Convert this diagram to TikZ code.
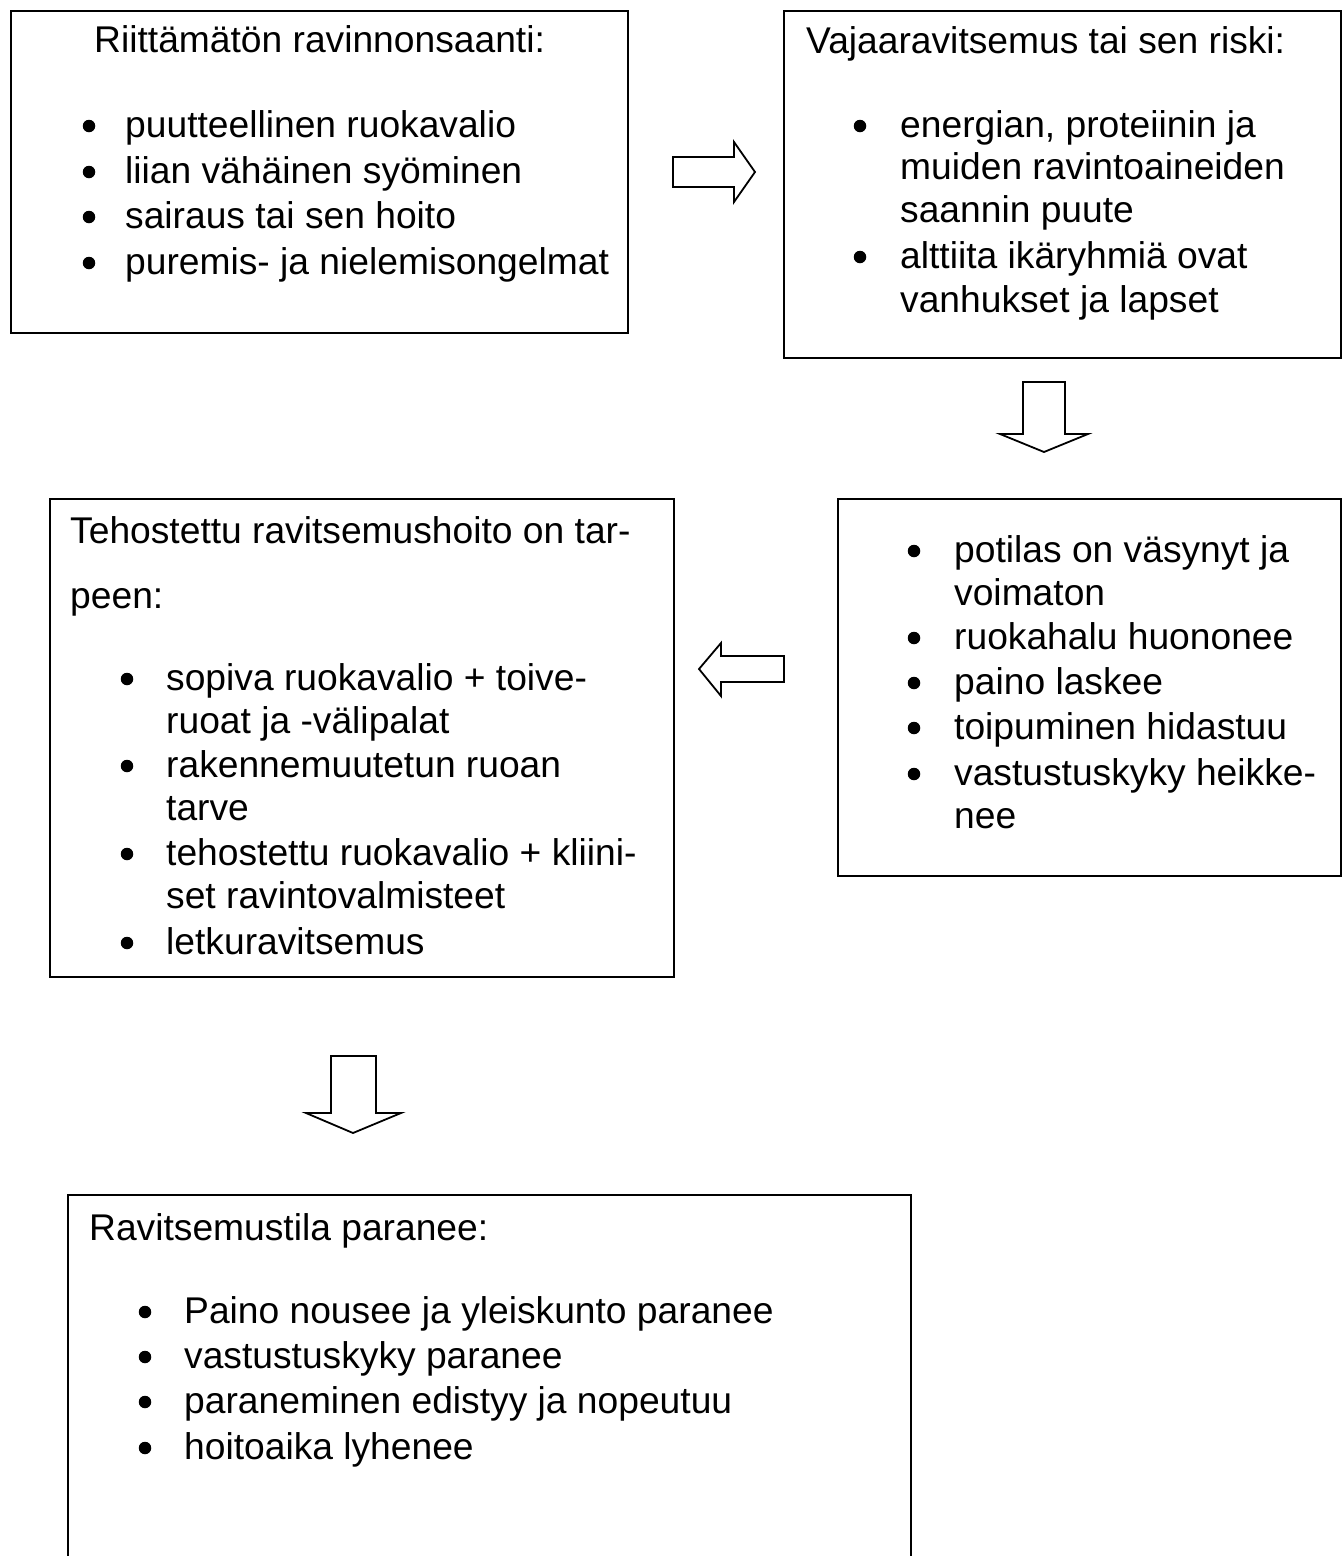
\documentclass[tikz,border=0pt]{standalone}
\usepackage{fontspec}
\setmainfont{Liberation Sans}
\begin{document}
\begin{tikzpicture}[x=1pt,y=-1pt,
  box/.style={draw, line width=1.5pt, rectangle, inner sep=0pt, anchor=north west},
  txt/.style={anchor=base west, inner sep=0pt, font=\fontsize{37.2}{44}\selectfont},
  dot/.style={circle, fill=black, inner sep=0pt, minimum size=12.5pt},
  blockarrow/.style={draw, line width=1.8pt, fill=white, line join=miter}]
\useasboundingbox (0,0) rectangle (1344,1556);
% boxes
\node[box, minimum width=617pt, minimum height=322pt] (b1) at (10,10) {};
\node[box, minimum width=557pt, minimum height=347pt] (b2) at (783,10) {};
\node[box, minimum width=503pt, minimum height=377pt] (b3) at (837,498) {};
\node[box, minimum width=624pt, minimum height=478pt] (b4) at (49,498) {};
\node[box, minimum width=843pt, minimum height=430pt] (b5) at (67,1194) {};
% box 1
\node[txt] (t1) at (94,52) {Riittämätön ravinnonsaanti:};
\node[dot] (d1a) at (89,126) {}; \node[txt] (t1a) at (125,137) {puutteellinen ruokavalio};
\node[dot] (d1b) at (89,172) {}; \node[txt] (t1b) at (125,183) {liian vähäinen syöminen};
\node[dot] (d1c) at (89,217) {}; \node[txt] (t1c) at (125,228) {sairaus tai sen hoito};
\node[dot] (d1d) at (89,263) {}; \node[txt] (t1d) at (125,274) {puremis- ja nielemisongelmat};
% box 2
\node[txt] (t2) at (806,53) {Vajaaravitsemus tai sen riski:};
\node[dot] (d2a) at (860,126) {}; \node[txt] (t2a) at (900,137) {energian, proteiinin ja};
\node[txt] (t2b) at (900,179) {muiden ravintoaineiden};
\node[txt] (t2c) at (900,222) {saannin puute};
\node[dot] (d2d) at (860,257) {}; \node[txt] (t2d) at (900,268) {alttiita ikäryhmiä ovat};
\node[txt] (t2e) at (900,312) {vanhukset ja lapset};
% box 3
\node[dot] (d3a) at (914,551) {}; \node[txt] (t3a) at (954,562) {potilas on väsynyt ja};
\node[txt] (t3b) at (954,605) {voimaton};
\node[dot] (d3c) at (914,638) {}; \node[txt] (t3c) at (954,649) {ruokahalu huononee};
\node[dot] (d3d) at (914,683) {}; \node[txt] (t3d) at (954,694) {paino laskee};
\node[dot] (d3e) at (914,728) {}; \node[txt] (t3e) at (954,739) {toipuminen hidastuu};
\node[dot] (d3f) at (914,774) {}; \node[txt] (t3f) at (954,785) {vastustuskyky heikke-};
\node[txt] (t3g) at (954,828) {nee};
% box 4
\node[txt] (t4) at (70,543) {Tehostettu ravitsemushoito on tar-};
\node[txt] (t4p) at (70,608) {peen:};
\node[dot] (d4a) at (127,679) {}; \node[txt] (t4a) at (166,690) {sopiva ruokavalio + toive-};
\node[txt] (t4b) at (166,733) {ruoat ja -välipalat};
\node[dot] (d4c) at (127,766) {}; \node[txt] (t4c) at (166,777) {rakennemuutetun ruoan};
\node[txt] (t4d) at (166,820) {tarve};
\node[dot] (d4e) at (127,854) {}; \node[txt] (t4e) at (166,865) {tehostettu ruokavalio + kliini-};
\node[txt] (t4f) at (166,908) {set ravintovalmisteet};
\node[dot] (d4g) at (127,943) {}; \node[txt] (t4g) at (166,954) {letkuravitsemus};
% box 5
\node[txt] (t5) at (89,1240) {Ravitsemustila paranee:};
\node[dot] (d5a) at (145,1312) {}; \node[txt] (t5a) at (184,1323) {Paino nousee ja yleiskunto paranee};
\node[dot] (d5b) at (145,1357) {}; \node[txt] (t5b) at (184,1368) {vastustuskyky paranee};
\node[dot] (d5c) at (145,1402) {}; \node[txt] (t5c) at (184,1413) {paraneminen edistyy ja nopeutuu};
\node[dot] (d5d) at (145,1448) {}; \node[txt] (t5d) at (184,1459) {hoitoaika lyhenee};
% block arrows
\draw[blockarrow] (673,157) -- (734,157) -- (734,142) -- (755,172) -- (734,202) -- (734,187) -- (673,187) -- cycle;
\draw[blockarrow] (1023,382) -- (1065,382) -- (1065,434) -- (1088,434) -- (1044,452) -- (1000,434) -- (1023,434) -- cycle;
\draw[blockarrow] (784,656) -- (721,656) -- (721,643) -- (699,669) -- (721,696) -- (721,682) -- (784,682) -- cycle;
\draw[blockarrow] (331,1056) -- (376,1056) -- (376,1113) -- (401,1113) -- (353,1133) -- (306,1113) -- (331,1113) -- cycle;
\end{tikzpicture}
\end{document}
